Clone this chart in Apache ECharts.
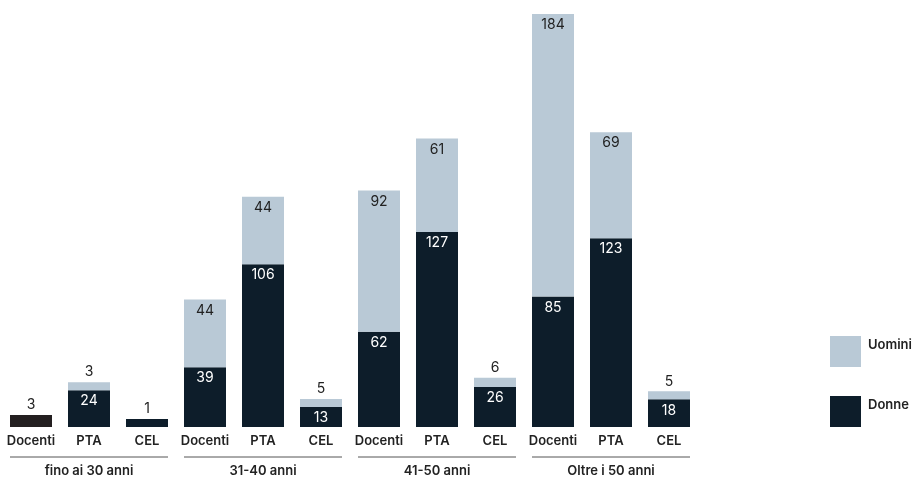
<!DOCTYPE html>
<html>
<head>
<meta charset="utf-8">
<script src="https://cdn.jsdelivr.net/npm/echarts@6/dist/echarts.min.js"></script>
<style>html,body{margin:0;padding:0;background:#fff}#c{width:918px;height:480px}</style>
</head>
<body>
<div id="c"></div>
<script>
const categories = ['Docenti','PTA','CEL','Docenti','PTA','CEL','Docenti','PTA','CEL','Docenti','PTA','CEL'];
const groups = ['fino ai 30 anni','31-40 anni','41-50 anni','Oltre i 50 anni'];
const donne  = ['-', 24, 1, 39, 106, 13, 62, 127, 26, 85, 123, 18];
const uomini = ['-', 3, '-', 44, 44, 5, 92, 61, 6, 184, 69, 5];
const totaleNonDistinto = [3, '-', '-', '-', '-', '-', '-', '-', '-', '-', '-', '-'];

const FONT = 'Inter, "Noto Sans", sans-serif';
const LIGHT = '#b9c9d6';
const DARK = '#0d1d2a';
const TXT = '#222222';
const SMALL = 8; // values below this get labels above the bar

function withLabels(arr, insideColor) {
  return arr.map(v => {
    if (v === '-') return v;
    if (v < SMALL) return {value: v, label: {position: 'top', color: TXT, distance: 3}};
    return {value: v, label: {position: 'insideTop', color: insideColor, distance: 4}};
  });
}

const chart = echarts.init(document.getElementById('c'));
const option = {
  animation: false,
  grid: {left: 2, width: 696, top: 12.5, bottom: 53},
  legend: {
    data: ['Uomini', 'Donne'],
    orient: 'vertical', left: 830, top: 336, padding: 0,
    itemWidth: 31, itemHeight: 31, itemGap: 29,
    icon: 'rect',
    formatter: '{a|{name}}',
    textStyle: {
      fontFamily: FONT, fontSize: 13, fontWeight: 600, color: TXT,
      rich: {a: {fontFamily: FONT, fontSize: 13, fontWeight: 600, color: TXT, padding: [0, 0, 13, 2]}}
    }
  },
  xAxis: [{
    type: 'category', data: categories,
    axisLine: {show: false}, axisTick: {show: false},
    axisLabel: {interval: 0, fontFamily: FONT, fontSize: 13, fontWeight: 600, color: TXT, margin: 8}
  }, {
    type: 'category', data: groups, position: 'bottom', offset: 30,
    axisLine: {show: false}, axisTick: {show: false},
    axisLabel: {interval: 0, fontFamily: FONT, fontSize: 13, fontWeight: 600, color: TXT, margin: 8}
  }],
  yAxis: {type: 'value', min: 0, max: 270, show: false, splitLine: {show: false}},
  series: [{
    name: 'Altro', type: 'bar', stack: 's', barWidth: 42, barMinHeight: 12,
    data: totaleNonDistinto, itemStyle: {color: '#231f20'},
    label: {show: true, position: 'top', color: TXT, fontFamily: FONT, fontSize: 14, distance: 3}
  }, {
    name: 'Donne', type: 'bar', stack: 's', barWidth: 42, barMinHeight: 8,
    data: withLabels(donne, '#ffffff'), itemStyle: {color: DARK},
    label: {show: true, fontFamily: FONT, fontSize: 14}
  }, {
    name: 'Uomini', type: 'bar', stack: 's', barWidth: 42, barMinHeight: 8,
    data: withLabels(uomini, TXT), itemStyle: {color: LIGHT},
    label: {show: true, fontFamily: FONT, fontSize: 14}
  }]
};
chart.setOption(option);

// group separator lines beneath each triplet of category labels
const lines = [];
const halfBar = 21;
const baseY = chart.convertToPixel({yAxisIndex: 0}, 0);
for (let g = 0; g < groups.length; g++) {
  const x1 = chart.convertToPixel({xAxisIndex: 0}, g * 3) - halfBar;
  const x2 = chart.convertToPixel({xAxisIndex: 0}, g * 3 + 2) + halfBar;
  lines.push({
    type: 'line', shape: {x1: x1, y1: baseY + 30, x2: x2, y2: baseY + 30},
    style: {stroke: '#555', lineWidth: 1}, silent: true
  });
}
chart.setOption({graphic: lines});
</script>
</body>
</html>
